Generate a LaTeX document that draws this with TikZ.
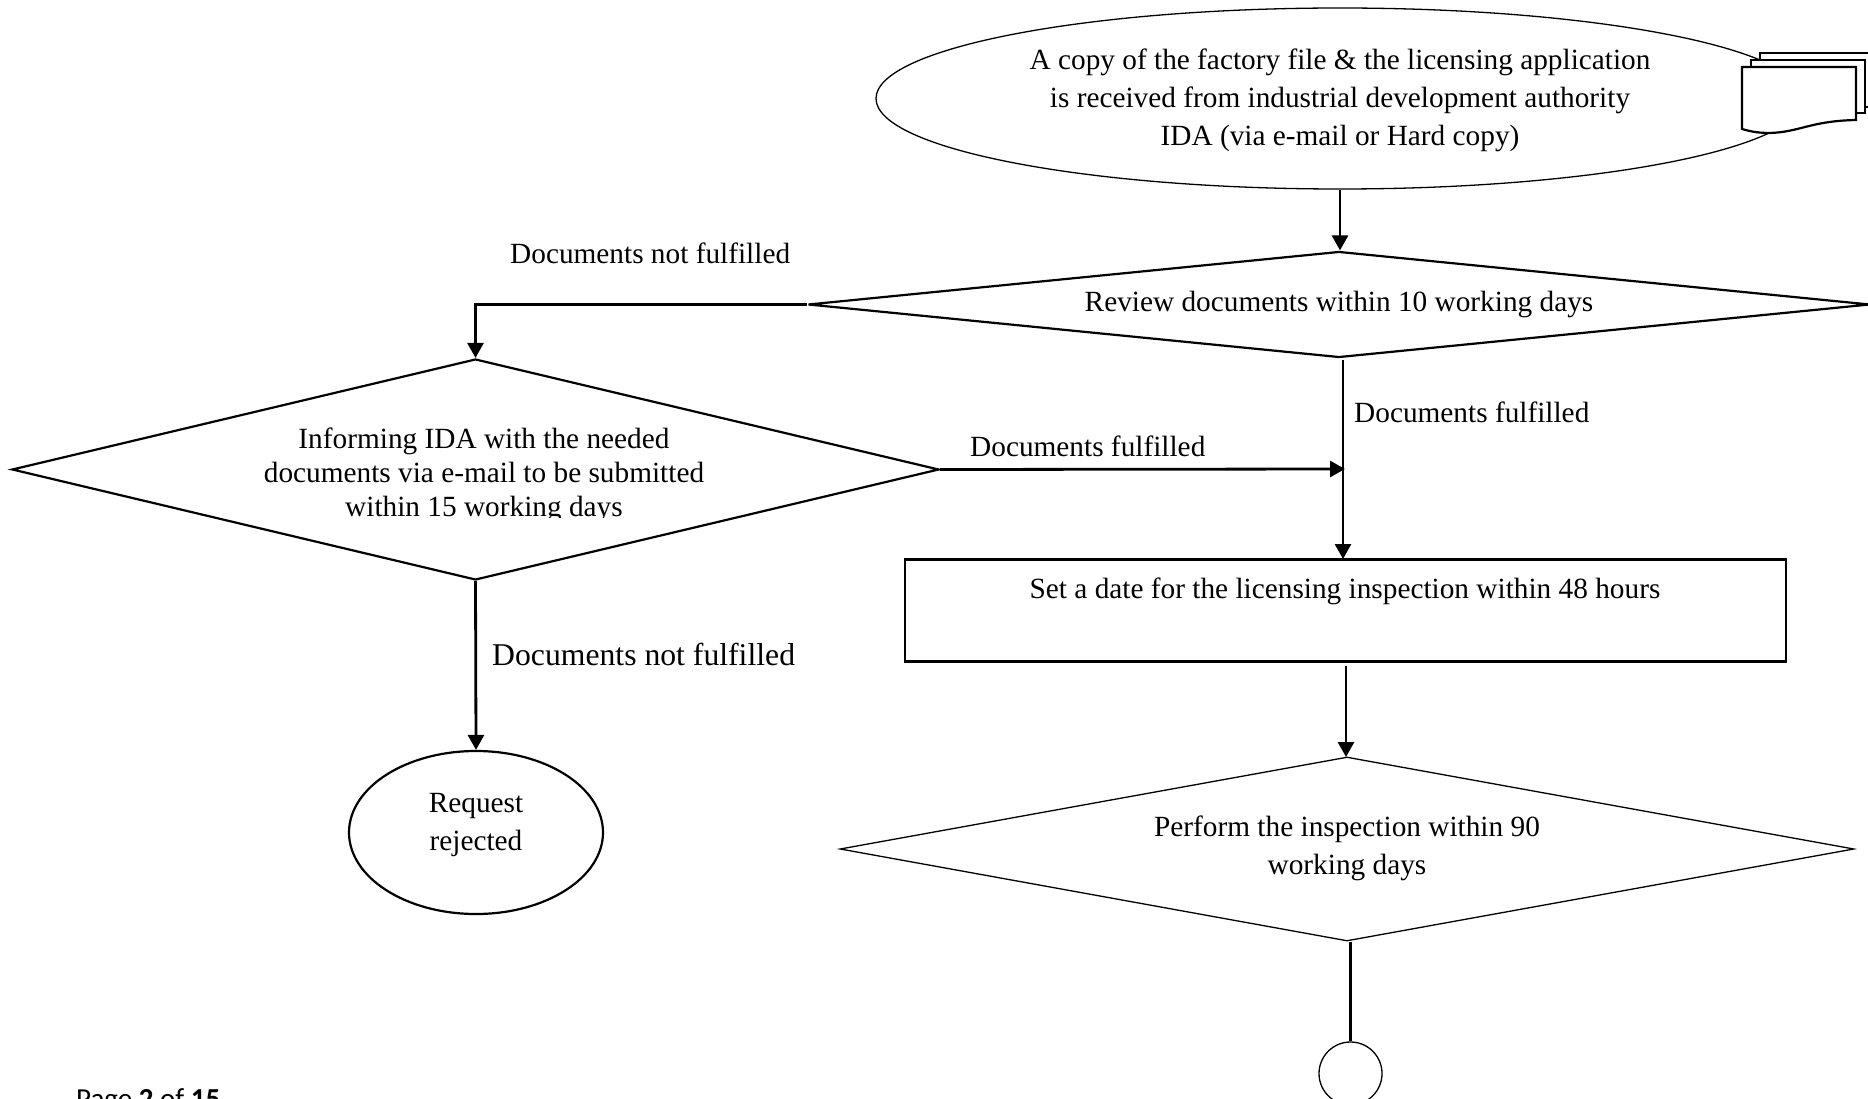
\documentclass[tikz,border=0pt]{standalone}
\usepackage{fontspec}
\setmainfont{Liberation Serif}
\newfontfamily\pagefont{Carlito}
\usetikzlibrary{shapes.geometric,arrows.meta}
\tikzset{
  x=1pt,y=-1pt,
  thick line/.style={line width=2.2pt},
  thin line/.style={line width=1.3pt},
  flow/.style={line width=2.8pt,-{Triangle[length=15pt,width=16pt]}},
  plain flow/.style={line width=2.8pt},
  txt/.style={font=\fontsize{29.3}{38}\selectfont,align=center,inner sep=0pt},
  lbl/.style={font=\fontsize{29.3}{38}\selectfont,inner sep=0pt,anchor=base west},
  dec/.style={diamond,draw,inner sep=0pt,txt},
  pagedoc/.style={draw,fill=white,line width=2.2pt,line join=miter}
}
\begin{document}
\begin{tikzpicture}
\clip (0,0) rectangle (1868,1099);
\fill[white] (0,0) rectangle (1868,1099);
% start ellipse
\node[ellipse,draw,thin line,minimum width=928pt,minimum height=181pt,inner sep=0pt] (start) at (1340,98.5) {};
\node[txt] (starttext) at (1340,100.5) {A copy of the factory file \& the licensing application\\is received from industrial development authority\\IDA (via e-mail or Hard copy)};
% multi-document symbol
\draw[pagedoc] (1760,53) rectangle (1880,107);
\draw[pagedoc] (1751,60) rectangle (1865,113);
\draw[pagedoc] (1742,67) -- (1856,67) -- (1856,120) .. controls (1810,121) and (1800,132) .. (1770,133) .. controls (1760,133) and (1752,132) .. (1742,129) -- cycle;
% decisions
\node[dec,thick line,minimum width=1062pt,minimum height=106pt,shape aspect=10] (review) at (1339,304.5) {Review documents within 10 working days};
\node[diamond,draw,thick line,inner sep=0pt,minimum width=927pt,minimum height=221pt,shape aspect=4.19] (inform) at (475.5,469.5) {};
\begin{scope}
\clip (200,400) rectangle (800,517);
\node[txt,font=\fontsize{29.3}{34}\selectfont] (informtext) at (484,475.5) {Informing IDA with the needed\\documents via e-mail to be submitted\\within 15 working days};
\end{scope}
\node[rectangle,draw,thick line,minimum width=881pt,minimum height=102pt,inner sep=0pt] (date) at (1345.5,610.5) {};
\node[txt] (datetext) at (1345,591.5) {Set a date for the licensing inspection within 48 hours};
\node[diamond,draw,thin line,inner sep=0pt,minimum width=1014pt,minimum height=184pt,shape aspect=5.5] (inspect) at (1347,849) {};
\node[txt] (inspecttext) at (1347,848.5) {Perform the inspection within 90\\working days};
% terminators
\node[ellipse,draw,thick line,minimum width=254pt,minimum height=163pt,inner sep=0pt,txt] (rej) at (476,832.5) {};
\node[txt] (rejtext) at (476,825) {Request\\rejected};
\node[ellipse,draw,thin line,minimum width=63pt,minimum height=63pt,inner sep=0pt] (conn) at (1350.5,1073.5) {};
% connector anchors
\coordinate (reviewout) at (1343,360);
\coordinate (join) at (1345,469);
\coordinate (datetop) at (1343,559);
\coordinate (dateout) at (1346,666);
\coordinate (inspin) at (1346,757);
% connectors
\draw[flow] (start.south) -- (start.south |- review.north);
\draw[flow] (review.west) -| (inform.north);
\draw[flow] (reviewout) -- (datetop);
\draw[flow] (inform.east) -- (join);
\draw[flow] (inform.south) -- (rej.north);
\draw[flow] (dateout) -- (inspin);
\draw[plain flow] (conn.north |- inspect.south) -- (conn.north);
% labels
\node[lbl] (l1) at (510,264) {Documents not fulfilled};
\node[lbl] (l2) at (1354,422) {Documents fulfilled};
\node[lbl] (l3) at (970,456) {Documents fulfilled};
\node[lbl,font=\fontsize{31.7}{38}\selectfont] (l4) at (492,665) {Documents not fulfilled};
\node[inner sep=0pt,anchor=base west,font=\pagefont\fontsize{29}{32}\selectfont] (pg) at (76,1108.5) {Page \textbf{2} of \textbf{15}};
\end{tikzpicture}
\end{document}
